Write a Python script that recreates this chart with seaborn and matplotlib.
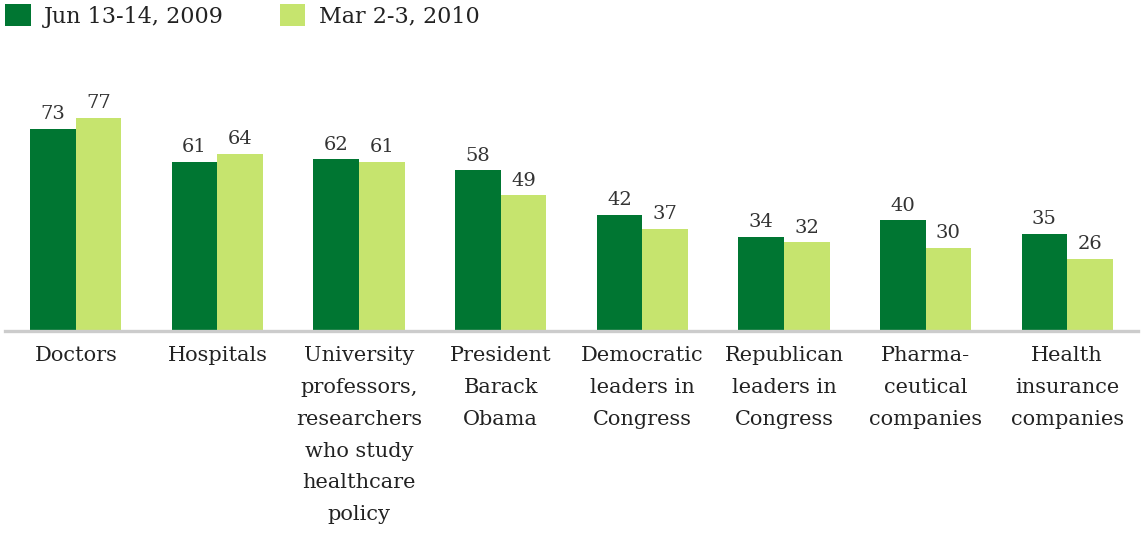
import matplotlib
matplotlib.use("Agg")
import matplotlib.pyplot as plt
import seaborn as sns
import pandas as pd

categories = [
    "Doctors",
    "Hospitals",
    "University\nprofessors,\nresearchers\nwho study\nhealthcare\npolicy",
    "President\nBarack\nObama",
    "Democratic\nleaders in\nCongress",
    "Republican\nleaders in\nCongress",
    "Pharma-\nceutical\ncompanies",
    "Health\ninsurance\ncompanies",
]
series_names = ["Jun 13-14, 2009", "Mar 2-3, 2010"]
jun_2009 = [73, 61, 62, 58, 42, 34, 40, 35]
mar_2010 = [77, 64, 61, 49, 37, 32, 30, 26]

colors = ["#007632", "#C6E46E"]

df = pd.DataFrame({
    "category": categories * 2,
    "period": [series_names[0]] * len(categories) + [series_names[1]] * len(categories),
    "value": jun_2009 + mar_2010,
})

sns.set_theme(style="white")
plt.rcParams["font.family"] = ["DejaVu Serif", "Liberation Serif"]

fig = plt.figure(figsize=(11.42, 5.33), dpi=100)
ax = fig.add_axes([5 / 1142, (533 - 331) / 533, 1133 / 1142, 277 / 533])

sns.barplot(data=df, x="category", y="value", hue="period",
            palette=colors, width=0.645, gap=0, saturation=1,
            edgecolor="none", linewidth=0, ax=ax)

ax.set_xlim(-0.5, len(categories) - 0.5)
ax.set_ylim(0, 100)
ax.set_xlabel("")
ax.set_ylabel("")
ax.set_yticks([])

for container in ax.containers:
    ax.bar_label(container, fmt="%d", padding=4, fontsize=14, color="#333333")

ax.tick_params(axis="x", length=0, pad=11, labelsize=15, labelcolor="#222222")
for lbl in ax.get_xticklabels():
    lbl.set_linespacing(1.85)
    lbl.set_verticalalignment("top")

for side in ["top", "left", "right"]:
    ax.spines[side].set_visible(False)
ax.spines["bottom"].set_color("#CCCCCC")
ax.spines["bottom"].set_linewidth(2.4)

handles, labels = ax.get_legend_handles_labels()
ax.legend_.remove()
fig.legend(handles, labels, loc="upper left", bbox_to_anchor=(5 / 1142, 1 - 4 / 533),
           ncol=2, frameon=False, fontsize=16, handlelength=1.15,
           handleheight=1.15, handletextpad=0.62, columnspacing=2.5,
           borderpad=0, borderaxespad=0, labelcolor="#222222")

fig.savefig("out.png", dpi=100, facecolor="white")
